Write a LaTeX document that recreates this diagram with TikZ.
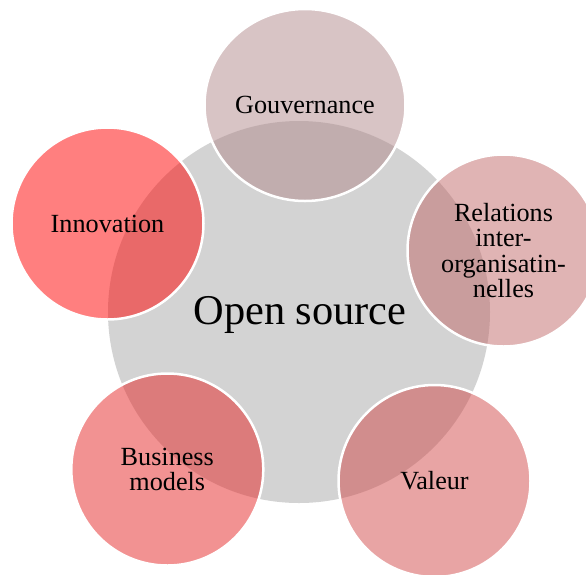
\documentclass[tikz,border=0pt]{standalone}
\usepackage{fontspec}
\setmainfont{Liberation Serif}
\usetikzlibrary{shapes.geometric}
\definecolor{hubgray}{RGB}{211,211,211}
\definecolor{cGouv}{RGB}{177,137,139}
\definecolor{cRel}{RGB}{193,105,105}
\definecolor{cVal}{RGB}{209,73,73}
\definecolor{cBus}{RGB}{229,37,37}
\definecolor{cInno}{RGB}{255,0,0}
\tikzset{
  hub/.style={circle, fill=hubgray, minimum size=382pt, inner sep=0pt,
    font=\fontsize{42.4}{44}\selectfont},
  sat/.style={circle, minimum size=192pt, inner sep=0pt, fill=#1,
    fill opacity=0.5, draw=white, draw opacity=1, line width=2.5pt,
    text opacity=1, align=center, text=black,
    font=\fontsize{26.2}{25.5}\selectfont},
}
\begin{document}
\begin{tikzpicture}[x=1pt,y=-1pt]
\useasboundingbox (0,0) rectangle (586,574);
\node[hub] (hub) at (299,312) {};
\node[font=\fontsize{42.4}{44}\selectfont] (hubtext) at (300,315) {Open source};
\node[sat=cGouv, ellipse, minimum width=201pt, minimum height=192pt] (gouv) at (305,105) {Gouvernance};
\node[sat=cRel] (rel) at (503.5,250.5) {Relations\\inter-\\organisatin-\\nelles};
\node[sat=cVal] (val) at (434.5,481) {Valeur};
\node[sat=cBus] (bus) at (167.3,469.5) {Business\\models};
\node[sat=cInno] (inno) at (107.5,223.5) {Innovation};
\end{tikzpicture}
\end{document}
